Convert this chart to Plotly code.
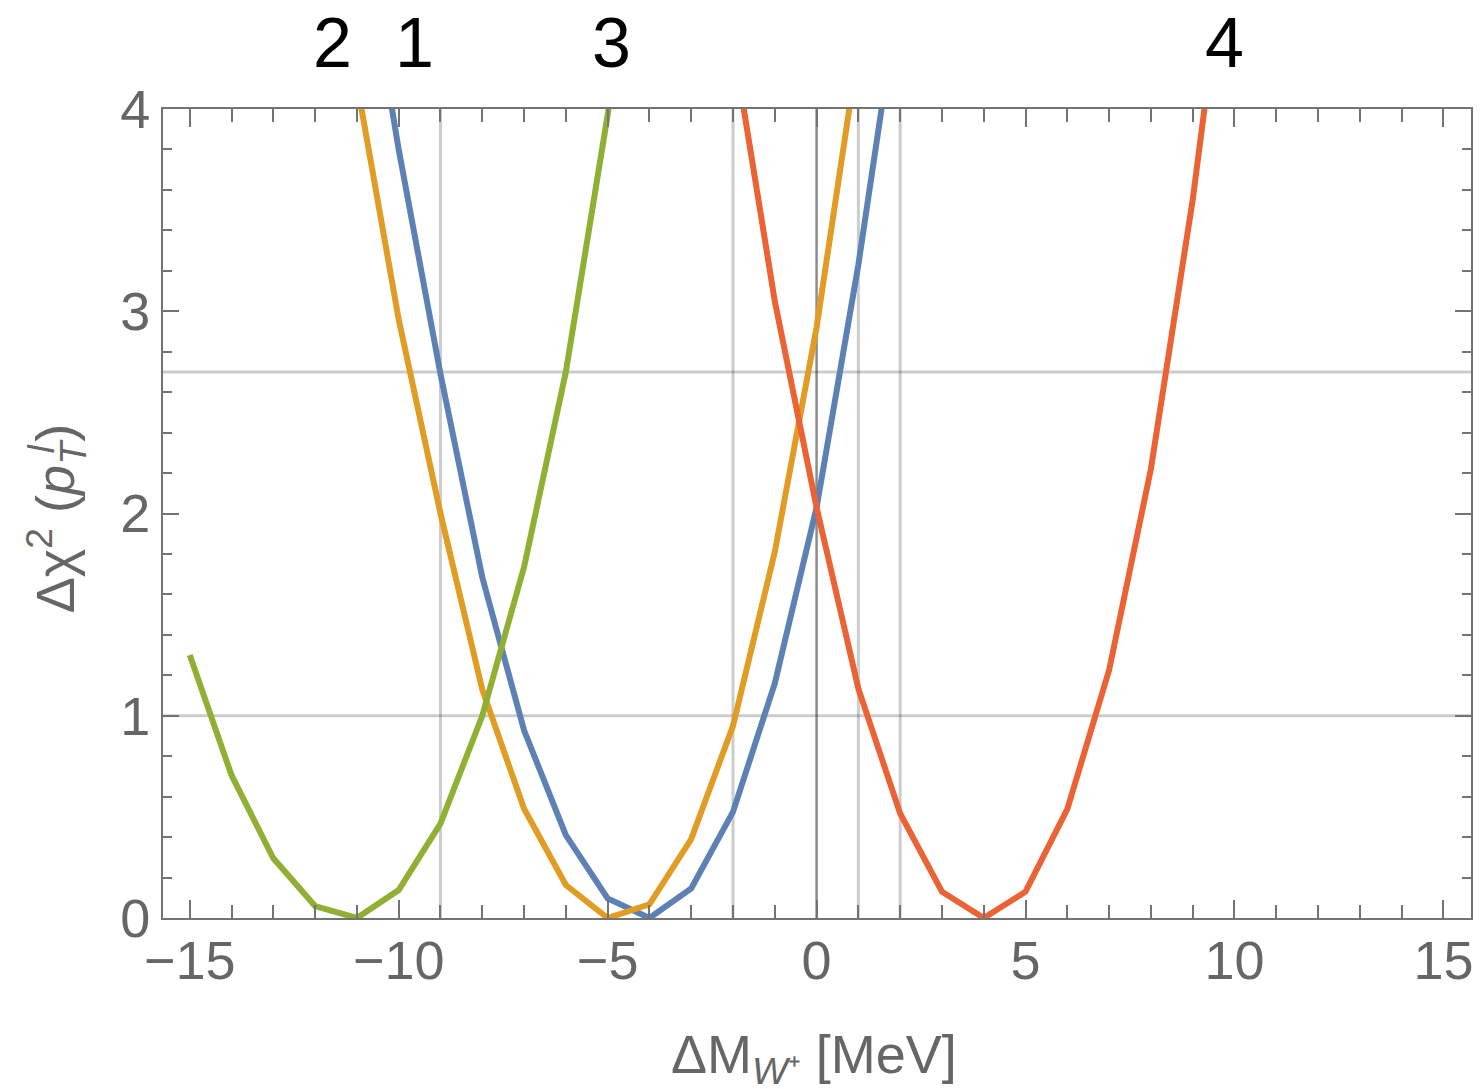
import plotly.graph_objects as go

# ---- data ----
blue_x = [-11, -10, -9, -8, -7, -6, -5, -4, -3, -2, -1, 0, 1, 2]
blue_y = [5.05, 3.80, 2.69, 1.685, 0.928, 0.41, 0.097, 0.0, 0.146, 0.525, 1.16, 2.03, 3.23, 4.62]

orange_x = [-11, -10, -9, -8, -7, -6, -5, -4, -3, -2, -1, 0, 1]
orange_y = [4.13, 2.96, 2.00, 1.13, 0.54, 0.163, 0.0, 0.068, 0.39, 0.95, 1.81, 2.92, 4.30]

green_x = [-15, -14, -13, -12, -11, -10, -9, -8, -7, -6, -5, -4]
green_y = [1.30, 0.706, 0.295, 0.059, 0.0, 0.138, 0.467, 1.00, 1.735, 2.70, 3.97, 5.40]

red_x = [-2, -1, 0, 1, 2, 3, 4, 5, 6, 7, 8, 9, 10]
red_y = [4.33, 3.05, 2.03, 1.134, 0.517, 0.13, 0.0, 0.13, 0.538, 1.226, 2.22, 3.55, 5.15]

series_names = ["1", "2", "3", "4"]
series_colors = ["#5E81B5", "#E19C24", "#8FB032", "#EB6235"]

# curve labels above the frame
label_text = ["2", "1", "3", "4"]
label_x = [-11.59, -9.61, -4.91, 9.75]

# reference lines
vlines_light = [-9, -2, 1, 2]
vline_dark = [0]
hlines = [1, 2.7]

x_range = [-15.64, 15.66]
y_range = [0, 4]

FONT = "Liberation Sans, Arial, Helvetica, sans-serif"
GRAY = "#666666"
FRAME = "#737373"

fig = go.Figure()
for xs, ys, name, col in zip([blue_x, orange_x, green_x, red_x],
                             [blue_y, orange_y, green_y, red_y],
                             series_names, series_colors):
    fig.add_trace(go.Scatter(x=xs, y=ys, mode="lines", name=name,
                             line=dict(color=col, width=6), showlegend=False))

shapes = []
for v in vlines_light:
    shapes.append(dict(type="line", xref="x", yref="paper", x0=v, x1=v, y0=0, y1=1,
                       line=dict(color="rgba(0,0,0,0.2)", width=3), layer="below"))
for v in vline_dark:
    shapes.append(dict(type="line", xref="x", yref="paper", x0=v, x1=v, y0=0, y1=1,
                       line=dict(color="rgba(0,0,0,0.45)", width=2.5), layer="below"))
for h in hlines:
    shapes.append(dict(type="line", xref="paper", yref="y", x0=0, x1=1, y0=h, y1=h,
                       line=dict(color="rgba(0,0,0,0.2)", width=3), layer="below"))

annotations = []
for t, xv in zip(label_text, label_x):
    annotations.append(dict(text=t, x=xv, xref="x", y=1.081, yref="paper",
                            xanchor="center", yanchor="middle", showarrow=False,
                            font=dict(family=FONT, size=70, color="black")))

annotations.append(dict(text="ΔM<sub><i>W</i>⁺</sub> [MeV]", x=0.498, xref="paper",
                        y=-0.1725, yref="paper", xanchor="center", yanchor="middle",
                        showarrow=False, font=dict(family=FONT, size=54, color=GRAY)))
annotations.append(dict(text="Δχ<sup>2</sup> (<i>p</i><sub><i>T</i></sub>)", x=-0.0822, xref="paper",
                        y=0.4946, yref="paper", xanchor="center", yanchor="middle",
                        textangle=-90, showarrow=False,
                        font=dict(family=FONT, size=54, color=GRAY)))
annotations.append(dict(text="<i>l</i>", x=-0.0929, xref="paper", y=0.580, yref="paper",
                        xanchor="center", yanchor="middle", textangle=-90, showarrow=False,
                        font=dict(family=FONT, size=36, color=GRAY)))

# the page body has an 8px default margin, so the figure is offset by 8px
fig.update_layout(
    width=1476, height=1081,
    margin=dict(l=155, r=11, t=101, b=171),
    paper_bgcolor="white", plot_bgcolor="white",
    shapes=shapes, annotations=annotations,
    font=dict(family=FONT, color=GRAY),
)
fig.update_xaxes(range=x_range, tickmode="linear", tick0=0, dtick=5,
                 ticks="inside", ticklen=18, tickwidth=2, tickcolor=FRAME,
                 minor=dict(dtick=1, ticks="inside", ticklen=13, tickwidth=2, tickcolor=FRAME),
                 showline=True, linecolor=FRAME, linewidth=2, mirror="allticks",
                 showgrid=False, zeroline=False, ticklabelstandoff=-6,
                 tickfont=dict(family=FONT, size=54, color=GRAY))
fig.update_yaxes(range=y_range, tickmode="linear", tick0=0, dtick=1,
                 ticks="inside", ticklen=16, tickwidth=2, tickcolor=FRAME,
                 minor=dict(dtick=0.2, ticks="inside", ticklen=9, tickwidth=2, tickcolor=FRAME),
                 showline=True, linecolor=FRAME, linewidth=2, mirror="allticks",
                 showgrid=False, zeroline=False,
                 tickfont=dict(family=FONT, size=54, color=GRAY))

fig.write_html("out.html")
